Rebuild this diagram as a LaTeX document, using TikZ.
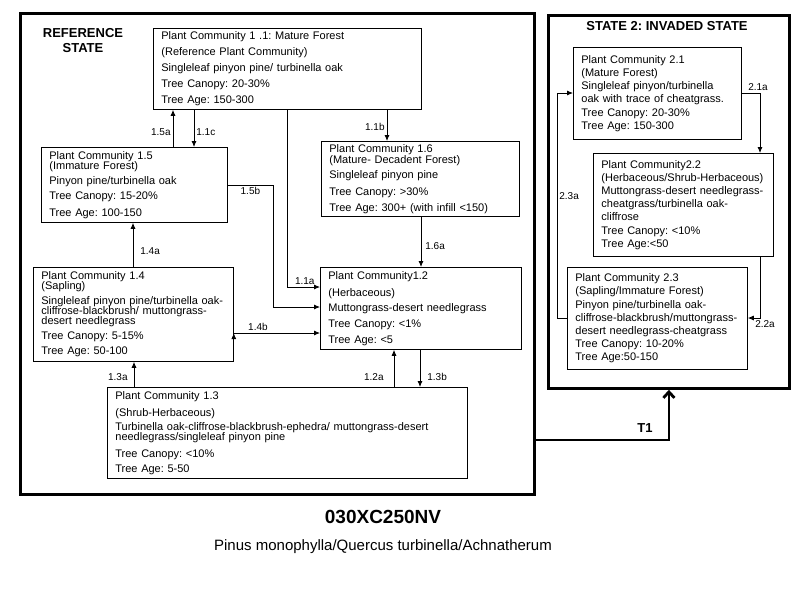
\documentclass[tikz,border=0pt]{standalone}
\usepackage{fontspec}
\setmainfont{Liberation Sans}
\usetikzlibrary{arrows.meta}
\frenchspacing

\tikzset{
  pc/.style={draw, line width=0.8pt, anchor=north west, inner xsep=8pt, inner ysep=0pt,
    align=left, font=\fontsize{11}{11}\selectfont,
    execute at begin node={\hyphenpenalty=10000\exhyphenpenalty=10000}},
  pcs/.style={pc, font=\fontsize{11}{13.2}\selectfont},
  lbl/.style={font=\fontsize{10}{10}\selectfont, inner sep=2pt},
  statebox/.style={draw, line width=2.8pt, anchor=north west, inner sep=0pt},
  statetitle/.style={font=\fontsize{13}{15}\selectfont\bfseries, align=center, inner sep=0pt},
}

\begin{document}
\begin{tikzpicture}[x=1pt, y=-1pt, >={Latex[length=6pt,width=5pt]}]
    \useasboundingbox (0,0) rectangle (800,600);

    \node[statebox, minimum width=514pt, minimum height=481pt] (refst) at (19,12) {};
    \node[statebox, minimum width=241pt, minimum height=373pt] (inv) at (547,14) {};
    \node[statetitle] (reft) at (83,41) {REFERENCE\\STATE};
    \node[statetitle] (invt) at (667,26) {STATE 2: INVADED STATE};

    \node[pc, text width=252pt, minimum height=81pt] (p11) at (153,28)
      {Plant Community 1 .1: Mature Forest\\[5pt] (Reference Plant Community)\\[5pt]
       Singleleaf pinyon pine/ turbinella oak\\[5pt] Tree Canopy: 20-30\%\\[5pt] Tree Age: 150-300};
    \node[pc, text width=170pt, minimum height=75pt] (p15) at (41,147)
      {Plant Community 1.5\\[-1pt] (Immature Forest)\\[4pt] Pinyon pine/turbinella oak\\[4pt]
       Tree Canopy: 15-20\%\\[6pt] Tree Age: 100-150};
    \node[pc, text width=182pt, minimum height=75pt] (p16) at (321,141)
      {Plant Community 1.6\\ (Mature- Decadent Forest)\\[4pt] Singleleaf pinyon pine\\[6pt]
       Tree Canopy: >30\%\\[5pt] Tree Age: 300+ (with infill <150)};
    \node[pc, text width=185pt, minimum height=82pt] (p12) at (320,267)
      {Plant Community1.2\\[6pt] (Herbaceous)\\[4pt] Muttongrass-desert needlegrass\\[5pt]
       Tree Canopy: <1\%\\[5pt] Tree Age: <5};
    \node[pc, text width=184pt, minimum height=94pt] (p14) at (33,267)
      {Plant Community 1.4\\[-1pt] (Sapling)\\[4pt] Singleleaf pinyon pine/turbinella oak-\\[-1pt]
       cliffrose-blackbrush/ muttongrass-\\[-1pt] desert needlegrass\\[4pt]
       Tree Canopy: 5-15\%\\[4pt] Tree Age: 50-100};
    \node[pc, text width=344pt, minimum height=91pt] (p13) at (107,387)
      {Plant Community 1.3\\[6pt] (Shrub-Herbaceous)\\[3pt]
       Turbinella oak-cliffrose-blackbrush-ephedra/ muttongrass-desert\\[-1pt]
       needlegrass/singleleaf pinyon pine\\[6pt] Tree Canopy: <10\%\\[4pt] Tree Age: 5-50};

    \node[pcs, text width=152pt, minimum height=92pt] (p21) at (573,47)
      {Plant Community 2.1\\ (Mature Forest)\\ Singleleaf pinyon/turbinella\\
       oak with trace of cheatgrass.\\ Tree Canopy: 20-30\%\\ Tree Age: 150-300};
    \node[pcs, text width=164pt, minimum height=103pt] (p22) at (593,153)
      {Plant Community2.2\\ (Herbaceous/Shrub-Herbaceous)\\ Muttongrass-desert needlegrass-\\
       cheatgrass/turbinella oak-\\ cliffrose\\ Tree Canopy: <10\%\\ Tree Age:<50};
    \node[pcs, text width=164pt, minimum height=102pt] (p23) at (567,267)
      {Plant Community 2.3\\ (Sapling/Immature Forest)\\ Pinyon pine/turbinella oak-\\
       cliffrose-blackbrush/muttongrass-\\ desert needlegrass-cheatgrass\\
       Tree Canopy: 10-20\%\\ Tree Age:50-150};

    \node[font=\fontsize{19}{19}\selectfont\bfseries] (code) at (383,517) {030XC250NV};
    \node[font=\fontsize{15}{15}\selectfont] (spp) at (383,547)
      {Pinus monophylla/Quercus turbinella/Achnatherum};

    \coordinate (x15a) at (173,0);
    \coordinate (x11c) at (194,0);
    \coordinate (x11b) at (387,0);
    \coordinate (x16a) at (421,0);
    \coordinate (x14a) at (133,0);
    \coordinate (x13a) at (134,0);
    \coordinate (x12a) at (394,0);
    \coordinate (x13b) at (420,0);
    \coordinate (y14b) at (0,333);
    \coordinate (k11a) at (287,287);
    \coordinate (k15b) at (273,185);
    \coordinate (m15b) at (273,307);
    \coordinate (k21a) at (760,93);
    \coordinate (k22a) at (760,318);
    \coordinate (k23a) at (557,318);
    \coordinate (m23a) at (557,93);
    \coordinate (kt1) at (667,440);

    \draw[->, line width=0.8pt]
          (p15.north -| x15a) edge node[lbl, left, pos=0.39] {1.5a} (p11.south -| x15a)
          (p11.south -| x11c) edge node[lbl, right, pos=0.61] {1.1c} (p15.north -| x11c)
          (p11.south -| x11b) edge node[lbl, left, pos=0.56] {1.1b} (p16.north -| x11b)
          (p16.south -| x16a) edge node[lbl, right, pos=0.58, xshift=2pt] {1.6a} (p12.north -| x16a)
          (p14.north -| x14a) edge node[lbl, right, pos=0.36, xshift=5pt] {1.4a} (p15.south -| x14a)
          (p13.north -| x13a) edge node[lbl, left, pos=0.38, xshift=-4pt] {1.3a} (p14.south -| x13a)
          (p13.north -| x12a) edge node[lbl, left, pos=0.26, xshift=-8pt] {1.2a} (p12.south -| x12a)
          (p12.south -| x13b) edge node[lbl, right, pos=0.74, xshift=5pt] {1.3b} (p13.north -| x13b)
          (p14.east |- y14b) edge node[lbl, above, pos=0.28] {1.4b} (p12.west |- y14b);
    \draw[->, line width=0.8pt]
          (p11.south -| k11a) |- node[lbl, above, pos=0.77] {1.1a} (p12.west |- k11a);
    \draw[->, line width=0.8pt]
          (p15.east |- k15b) -- node[lbl, below] {1.5b} (k15b) -- (m15b) -- (p12.west |- m15b);

    \draw[->, line width=0.8pt]
          (p21.east |- k21a) -| node[lbl, above, pos=0.5, xshift=-2pt] {2.1a} (p22.north -| k21a);
    \draw[->, line width=0.8pt]
          (p22.south -| k22a) |- node[lbl, below, pos=0.5, xshift=5pt] {2.2a} (p23.east |- k22a);
    \draw[->, line width=0.8pt]
          (p23.west |- k23a) -- (k23a) -- node[lbl, right, pos=0.54] {2.3a} (m23a) -- (p21.west |- m23a);

    \draw[-{Straight Barb[length=6pt,width=11pt]}, line width=2.8pt]
          (refst.east |- kt1) -| node[above, pos=0.41, yshift=3pt, font=\fontsize{13}{13}\selectfont\bfseries] {T1} (inv.south);
  \end{tikzpicture}
\end{document}
